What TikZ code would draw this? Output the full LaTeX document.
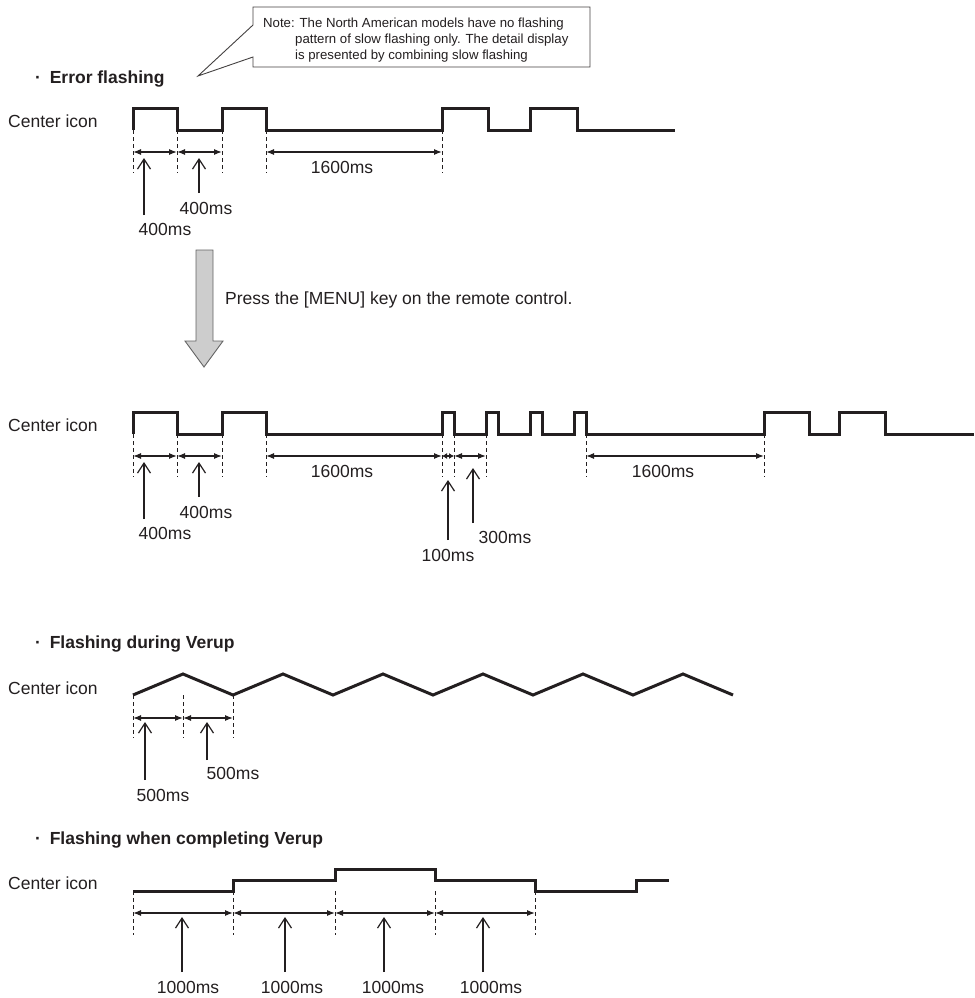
\documentclass[tikz,border=0pt]{standalone}
\usepackage{fontspec}
\setmainfont{Liberation Sans}
\usetikzlibrary{arrows.meta}
\definecolor{ink}{RGB}{35,31,32}
\definecolor{arrowfill}{RGB}{205,205,205}
\definecolor{arrowline}{RGB}{100,100,100}
\begin{document}
\begin{tikzpicture}[x=1pt,y=-1pt,
  txt/.style={inner sep=0pt, text=ink, font=\fontsize{17.5}{21}\selectfont},
  headtxt/.style={inner sep=0pt, text=ink, font=\fontsize{17.5}{21}\selectfont\bfseries, anchor=base west},
  lbl/.style={txt, anchor=west},
  wave/.style={draw=ink, line width=3pt, line join=miter},
  tick/.style={draw=ink, line width=0.8pt, dash pattern=on 4pt off 3pt},
  dim/.style={draw=ink, line width=1.2pt, {Latex[length=8pt,width=6pt]}-{Latex[length=8pt,width=6pt]}},
  dimsmall/.style={draw=ink, line width=1.2pt, {Latex[length=5pt,width=6pt]}-{Latex[length=5pt,width=6pt]}},
  ptr/.style={draw=ink, line width=1.2pt, -{Straight Barb[length=10pt,width=13pt]}},
  ]
\useasboundingbox (0,0) rectangle (974,998);

% ---------- note callout ----------
\draw[draw=ink!85, line width=0.9pt, fill=white]
  (253,57)--(253,67)--(590,67)--(590,7)--(253,7)--(253,25)--(198,76)--cycle;
\node[inner sep=0pt, anchor=north west, align=left, text=ink,
      font=\fontsize{13.2}{16}\selectfont] (note) at (263,18)
  {Note: The North American models have no flashing\\
   \hspace*{32pt}pattern of slow flashing only. The detail display\\
   \hspace*{32pt}is presented by combining slow flashing};

% ---------- section 1 : Error flashing ----------
\node[headtxt] (h1) at (35,83) {·\hspace{0.5em}Error flashing};
\node[lbl] (c1) at (8,121) {Center icon};
\draw[wave] (133,130)--(133,108)--(177,108)--(177,130)--(222,130)--(222,108)--(266,108)--(266,130)
  --(442,130)--(442,108)--(488,108)--(488,130)--(530,130)--(530,108)--(577,108)--(577,130)--(675,130);
\foreach \n/\x in {1/133,2/177,3/222,4/266,5/442}{
  \draw[tick] (\x,130) -- (\x,173);
  \coordinate (a\n) at (\x,152);
}
\draw[dim] (a1)--(a2);
\draw[dim] (a2)--(a3);
\draw[dim] (a4)--(a5);
\node[txt] (t1a) at (342,167) {1600ms};
\coordinate (p1a) at (144,158); \coordinate (q1a) at (144,215);
\coordinate (p1b) at (199,158); \coordinate (q1b) at (199,193);
\draw[ptr] (q1a)--(p1a);
\draw[ptr] (q1b)--(p1b);
\node[txt] (l1a) at (165,229) {400ms};
\node[txt] (l1b) at (206,208) {400ms};

% ---------- gray arrow ----------
\draw[draw=arrowline, fill=arrowfill, line width=0.9pt]
  (196,250)--(213,250)--(213,341)--(223,341)--(204,367)--(185,341)--(196,341)--cycle;
\node[lbl] (press) at (225,300) {Press the [MENU] key on the remote control.};

% ---------- section 2 ----------
\node[lbl] (c2) at (8,425) {Center icon};
\draw[wave] (133,434)--(133,412)--(177,412)--(177,434)--(222,434)--(222,412)--(266,412)--(266,434)
  --(442,434)--(442,412)--(454,412)--(454,434)--(486,434)--(486,412)--(498,412)--(498,434)
  --(530,434)--(530,412)--(542,412)--(542,434)--(574,434)--(574,412)--(586,412)--(586,434)
  --(764,434)--(764,412)--(809,412)--(809,434)--(839,434)--(839,412)--(885,412)--(885,434)--(974,434);
\foreach \n/\x in {1/133,2/177,3/222,4/266,5/442,6/454,7/486,8/586,9/764}{
  \draw[tick] (\x,434) -- (\x,477);
  \coordinate (b\n) at (\x,456);
}
\draw[dim] (b1)--(b2);
\draw[dim] (b2)--(b3);
\draw[dim] (b4)--(b5);
\draw[dimsmall] (b5)--(b6);
\draw[dim] (b6)--(b7);
\draw[dim] (b8)--(b9);
\node[txt] (t2a) at (342,471) {1600ms};
\node[txt] (t2b) at (663,471) {1600ms};
\coordinate (p2a) at (144,462); \coordinate (q2a) at (144,519);
\coordinate (p2b) at (199,462); \coordinate (q2b) at (199,497);
\coordinate (p2c) at (448,480); \coordinate (q2c) at (448,540);
\coordinate (p2d) at (473,468); \coordinate (q2d) at (473,523);
\draw[ptr] (q2a)--(p2a);
\draw[ptr] (q2b)--(p2b);
\draw[ptr] (q2c)--(p2c);
\draw[ptr] (q2d)--(p2d);
\node[txt] (l2a) at (165,533) {400ms};
\node[txt] (l2b) at (206,512) {400ms};
\node[txt] (l2c) at (448,555) {100ms};
\node[txt] (l2d) at (505,537) {300ms};

% ---------- section 3 : Flashing during Verup ----------
\node[headtxt] (h3) at (35,648) {·\hspace{0.5em}Flashing during Verup};
\node[lbl] (c3) at (8,688) {Center icon};
\draw[wave] (133,695)--(183,674)--(233,695)--(283,674)--(333,695)--(383,674)--(433,695)
  --(483,674)--(533,695)--(583,674)--(633,695)--(683,674)--(733,695);
\foreach \n/\x in {1/133,2/183,3/233}{
  \draw[tick] (\x,695) -- (\x,738);
  \coordinate (d\n) at (\x,718);
}
\draw[dim] (d1)--(d2);
\draw[dim] (d2)--(d3);
\coordinate (p3a) at (145,722); \coordinate (q3a) at (145,780);
\coordinate (p3b) at (207,722); \coordinate (q3b) at (207,760);
\draw[ptr] (q3a)--(p3a);
\draw[ptr] (q3b)--(p3b);
\node[txt] (l3a) at (163,795) {500ms};
\node[txt] (l3b) at (233,773) {500ms};

% ---------- section 4 : Flashing when completing Verup ----------
\node[headtxt] (h4) at (35,844) {·\hspace{0.5em}Flashing when completing Verup};
\node[lbl] (c4) at (8,883) {Center icon};
\draw[wave] (133,891)--(233,891)--(233,880)--(335,880)--(335,869)--(435,869)--(435,880)
  --(535,880)--(535,891)--(636,891)--(636,880)--(669,880);
\foreach \n/\x in {1/133,2/233,3/335,4/435,5/535}{
  \draw[tick] (\x,891) -- (\x,935);
  \coordinate (e\n) at (\x,913);
}
\draw[dim] (e1)--(e2);
\draw[dim] (e2)--(e3);
\draw[dim] (e3)--(e4);
\draw[dim] (e4)--(e5);
\foreach \n/\x/\lx in {1/182/188,2/285/292,3/384/393,4/483/491}{
  \coordinate (p4\n) at (\x,917);
  \coordinate (q4\n) at (\x,972);
  \draw[ptr] (q4\n)--(p4\n);
  \node[txt] (l4\n) at (\lx,987) {1000ms};
}
\end{tikzpicture}
\end{document}
